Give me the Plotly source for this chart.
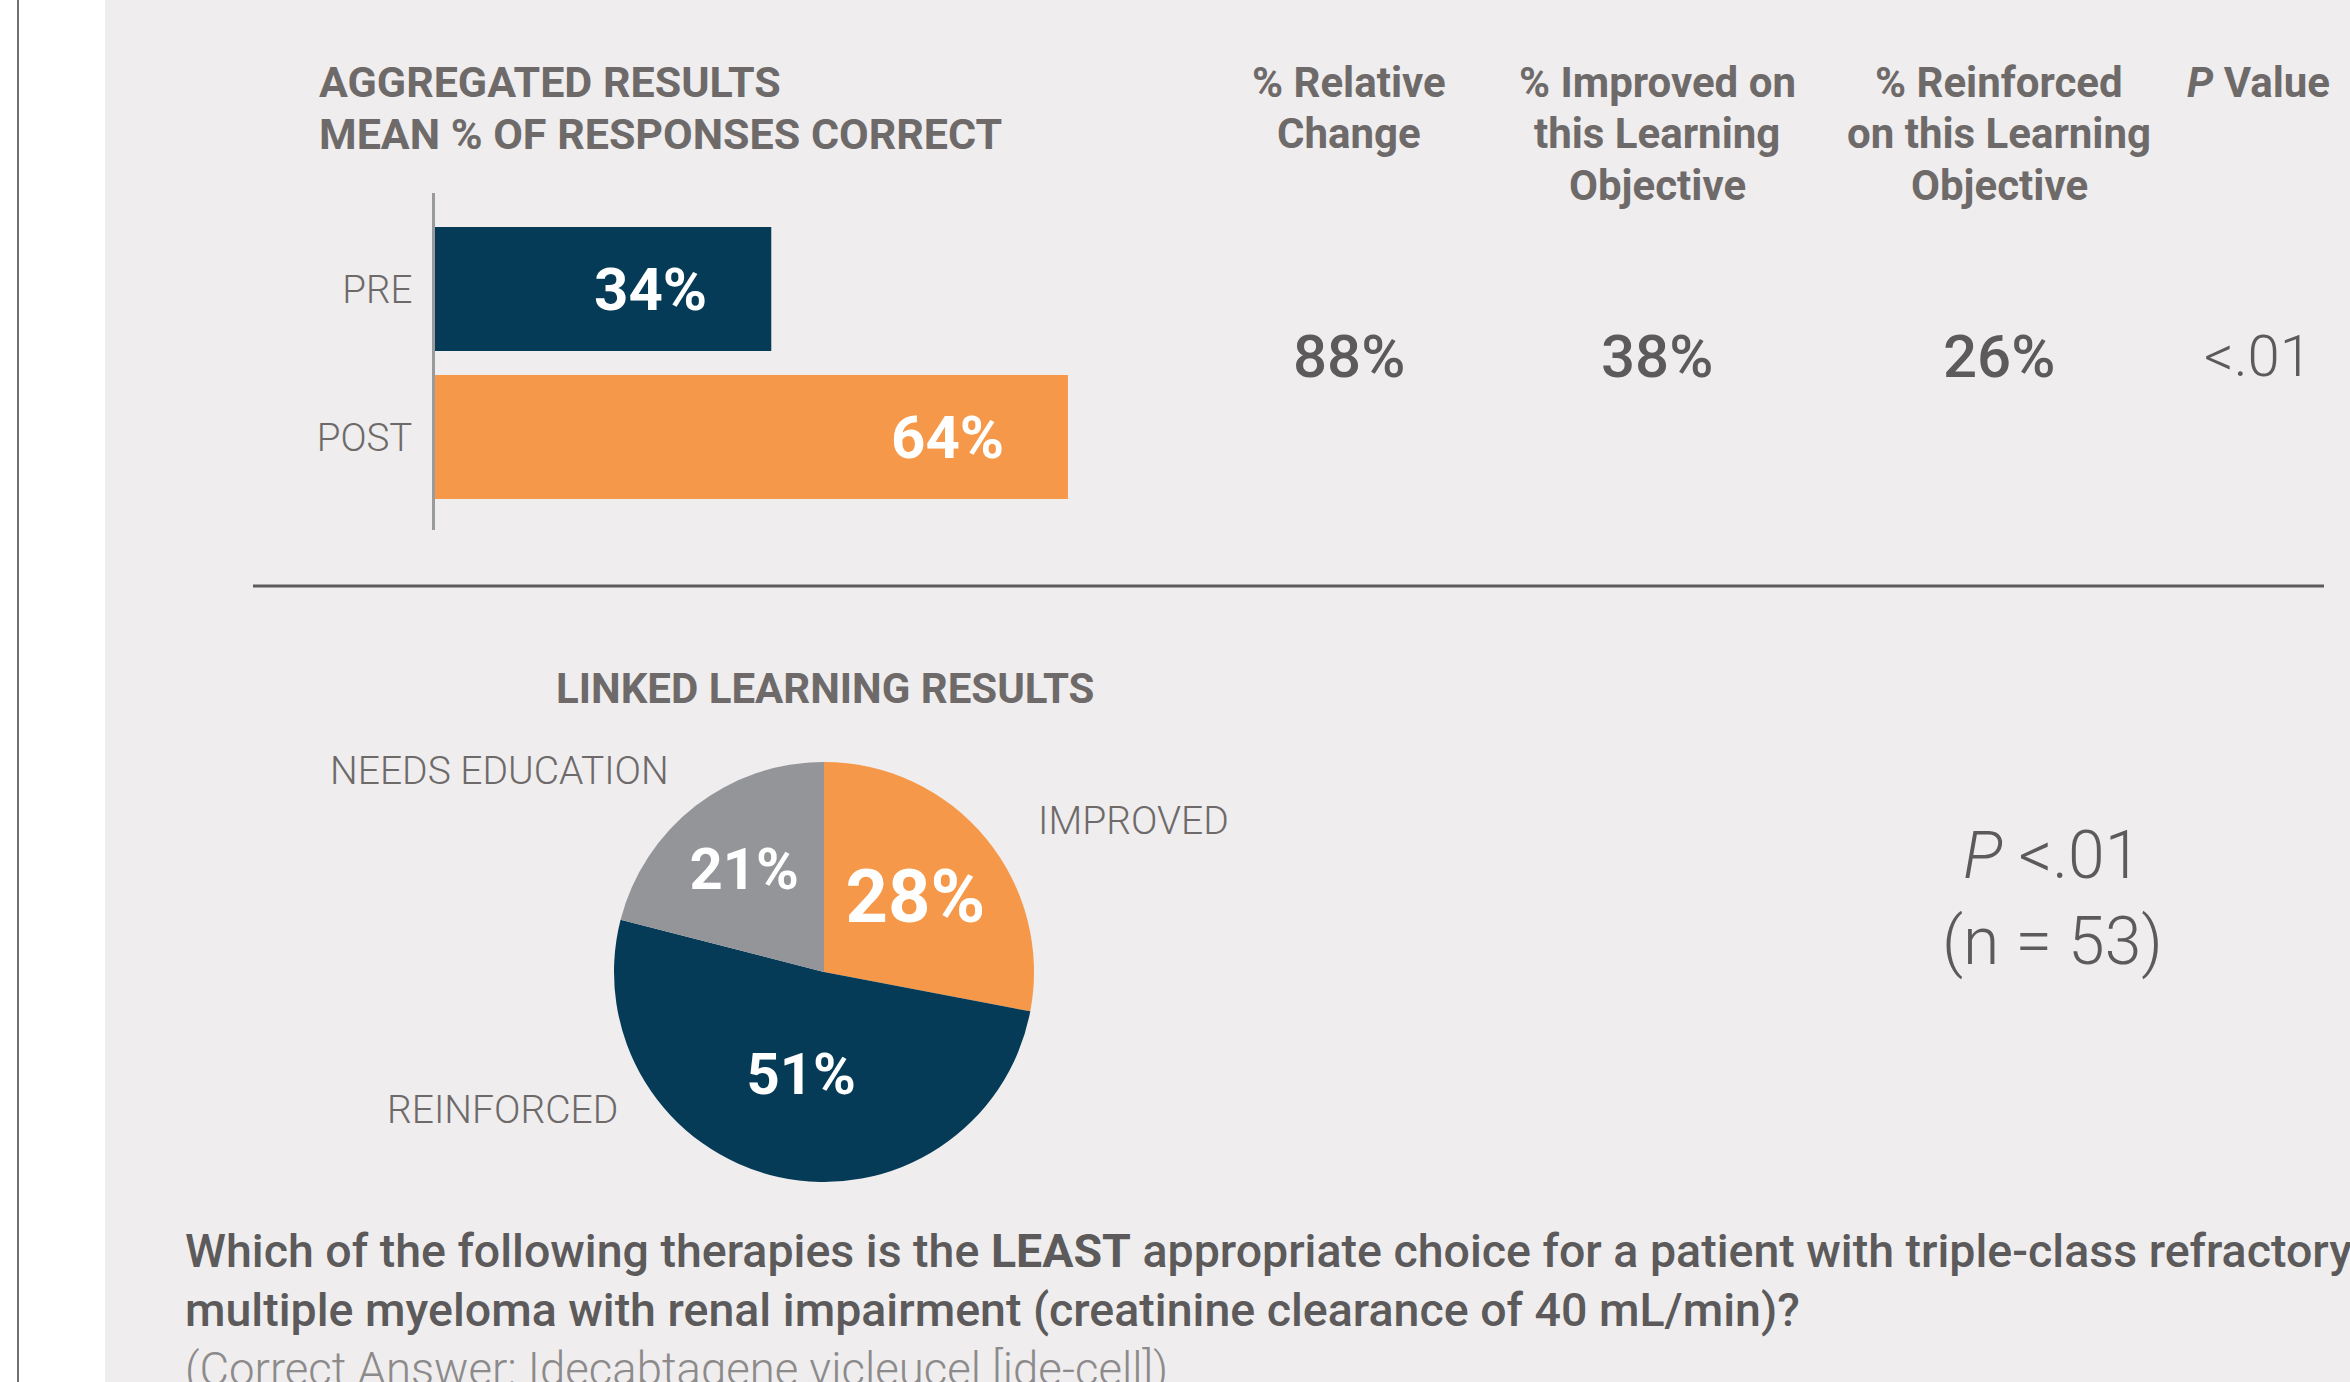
import plotly.graph_objects as go

# ---- data ----
bar_categories = ["PRE", "POST"]
bar_values = [34, 64]
bar_labels = ["34%", "64%"]

table_headers = [
    ["% Relative", "Change"],
    ["% Improved on", "this Learning", "Objective"],
    ["% Reinforced", "on this Learning", "Objective"],
    ["<i>P</i> Value"],
]
table_values = ["88%", "38%", "26%", "&lt;.01"]

pie_labels = ["IMPROVED", "REINFORCED", "NEEDS EDUCATION"]
pie_values = [28, 51, 21]

title_lines = ["AGGREGATED RESULTS", "MEAN % OF RESPONSES CORRECT"]
question_lines = [
    "Which of the following therapies is the <b>LEAST</b> appropriate choice for a patient with triple-class refractory",
    "multiple myeloma with renal impairment (creatinine clearance of 40 mL/min)?",
]
answer_line = "(Correct Answer: Idecabtagene vicleucel [ide-cell])"
stat_lines = ["<i>P</i> &lt;.01", "(n = 53)"]

# ---- styling ----
W, H = 2350, 1382
NAVY = "#063B57"
ORANGE = "#F69849"
GREY_SLICE = "#939598"
BG = "#EFEDEE"
TITLE_GREY = "#6E6A69"
TEXT_GREY = "#5C5A5A"
FONT = "Roboto"


def px(x):
    return x / W


def py(y):
    return 1 - y / H


def text_block(lines, x, y0, step, size, color, weight, anchor="center"):
    out = []
    for i, line in enumerate(lines):
        out.append(dict(
            x=px(x), y=py(y0 + i * step), xref="paper", yref="paper",
            xanchor=anchor, yanchor="middle", text=line, showarrow=False,
            font={"family": FONT, "size": size, "color": color, "weight": weight},
        ))
    return out


fig = go.Figure()

# bar chart: PRE / POST
fig.add_trace(
    go.Bar(
        orientation="h",
        y=bar_categories,
        x=bar_values,
        marker={"color": [NAVY, ORANGE], "line": {"width": 0}},
        width=0.838,
        hoverinfo="skip",
    )
)

# pie chart: linked learning
fig.add_trace(
    go.Pie(
        labels=pie_labels,
        values=pie_values,
        sort=False,
        direction="clockwise",
        rotation=0,
        marker={"colors": [ORANGE, NAVY, GREY_SLICE], "line": {"width": 0}},
        texttemplate="%{value}%",
        textposition="inside",
        insidetextorientation="horizontal",
        textfont={"family": FONT, "size": [74, 58, 58], "color": "white", "weight": 700},
        domain={"x": [px(614), px(1034)], "y": [py(1182), py(762)]},
        showlegend=False,
        hoverinfo="skip",
    )
)

annotations = []

# section titles
annotations += text_block(title_lines, 317, 82, 52, 43, TITLE_GREY, 700, anchor="left")
annotations += text_block(["LINKED LEARNING RESULTS"], 825, 689, 0, 42, TITLE_GREY, 700)

# bar value labels
for cat, val, lab in zip(bar_categories, bar_values, bar_labels):
    annotations.append(dict(
        x=val, y=cat, xref="x", yref="y", xanchor="right", yanchor="middle",
        xshift=-62, text=lab, showarrow=False,
        font={"family": FONT, "size": 60, "color": "white", "weight": 700},
    ))

# summary table
col_x = [1349, 1657, 1999, 2258]
for i, (hdr, val) in enumerate(zip(table_headers, table_values)):
    annotations += text_block(hdr, col_x[i], 82, 51.5, 42, TITLE_GREY, 700)
    annotations += text_block([val], col_x[i], 356, 0, 60 if i < 3 else 58, TEXT_GREY,
                              500 if i < 3 else 300)

# pie outside labels
pie_label_pos = [(1133, 821), (502, 1110), (499, 771)]
for lab, (lx, ly) in zip(pie_labels, pie_label_pos):
    annotations += text_block([lab], lx, ly, 0, 39, TITLE_GREY, 300)

# significance
annotations += text_block(stat_lines, 2052, 855, 86, 66, TEXT_GREY, 300)

# question text
annotations += text_block(question_lines, 183, 1251, 59, 46.5, TEXT_GREY, 500, anchor="left")
annotations += text_block([answer_line], 183, 1369, 0, 45.5, "#8C8A8A", 300, anchor="left")

shapes = [
    # white strip and left border
    dict(type="rect", xref="paper", yref="paper", x0=0, x1=px(105), y0=0, y1=1,
         fillcolor="white", line={"width": 0}, layer="below"),
    dict(type="line", xref="paper", yref="paper", x0=px(18), x1=px(18), y0=0, y1=1,
         line={"color": "#707070", "width": 2}),
    # separator
    dict(type="line", xref="paper", yref="paper", x0=px(253), x1=px(2324), y0=py(586), y1=py(586),
         line={"color": "#5C5C5C", "width": 3}),
]

fig.update_layout(
    width=W,
    height=H,
    margin={"l": 0, "r": 0, "t": 0, "b": 0},
    paper_bgcolor=BG,
    plot_bgcolor="rgba(0,0,0,0)",
    showlegend=False,
    xaxis={
        "domain": [px(435), px(1135)],
        "range": [0, 700 / 9.89],
        "visible": False,
        "fixedrange": True,
    },
    yaxis={
        "domain": [py(530), py(193)],
        "range": [1.628, -0.649],
        "showline": True,
        "linecolor": "#999A9C",
        "linewidth": 3,
        "showgrid": False,
        "zeroline": False,
        "ticks": "",
        "ticklabelstandoff": 12,
        "tickfont": {"family": FONT, "size": 38.5, "color": TITLE_GREY, "weight": 300},
        "fixedrange": True,
    },
    annotations=annotations,
    shapes=shapes,
)

fig.write_html(
    "out.html",
    config={"displayModeBar": False},
    post_script="document.body.style.margin='0';",
)
